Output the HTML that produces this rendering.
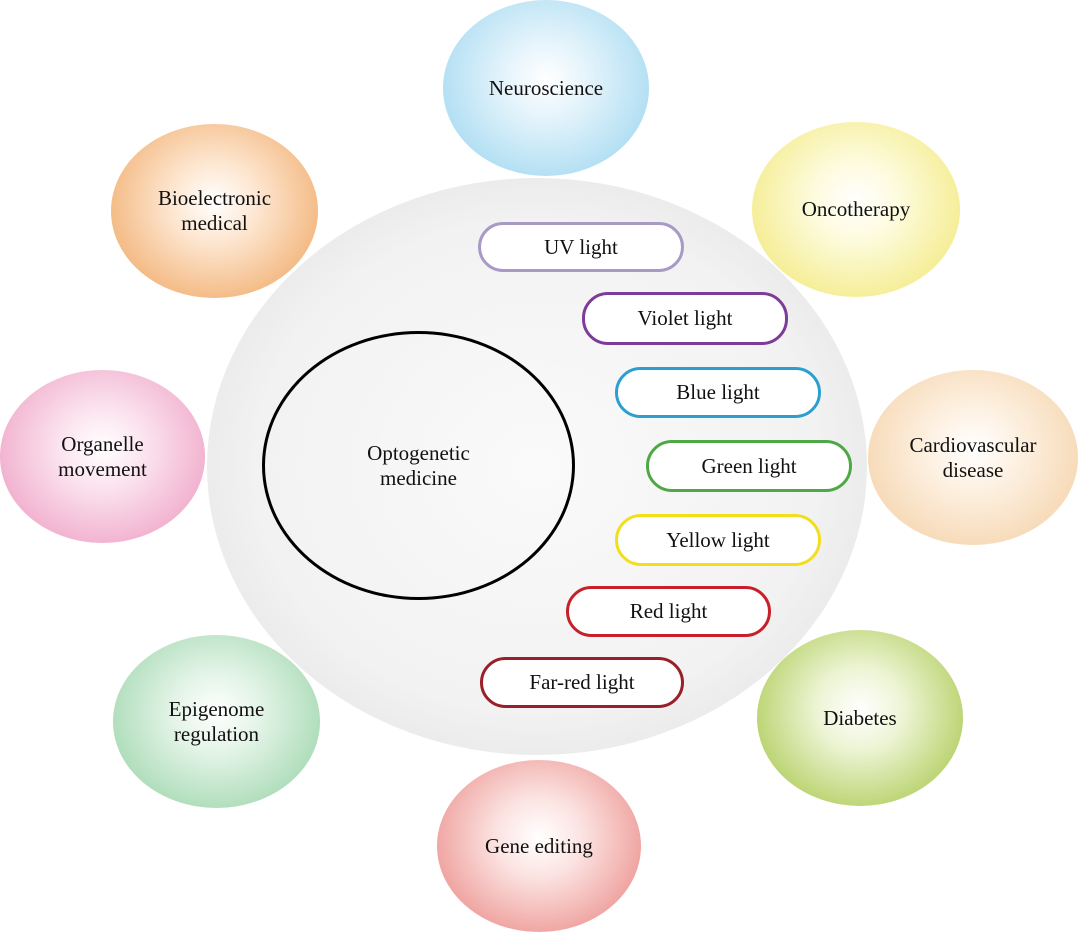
<!DOCTYPE html>
<html><head><meta charset="utf-8"><style>
body{margin:0;width:1080px;height:935px;background:#fff;position:relative;overflow:hidden;font-family:"Liberation Serif",serif;}
.c{position:absolute;border-radius:50%;display:flex;align-items:center;justify-content:center;text-align:center;font-size:21px;line-height:25px;color:#111;}
.p{position:absolute;border-radius:26px;border:3px solid;box-sizing:border-box;display:flex;align-items:center;justify-content:center;font-size:21px;color:#111;background:#fff;}
</style></head><body>
<div class="c" style="left:207px;top:178px;width:660px;height:577px;background:radial-gradient(ellipse at 50% 50%,#fafafa 0%,#f2f2f2 60%,#dadada 100%);"></div>
<div class="c" style="left:262px;top:331px;width:313px;height:269px;border:3px solid #000;box-sizing:border-box;">Optogenetic<br>medicine</div>

<div class="c" style="left:443px;top:0px;width:206px;height:176px;background:radial-gradient(ellipse at 50% 45%,#fff 0%,#e3f3fb 30%,#93d3ee 100%);">Neuroscience</div>
<div class="c" style="left:752px;top:122px;width:208px;height:175px;background:radial-gradient(ellipse at 50% 45%,#fff 0%,#fdfbdc 30%,#f0e56a 100%);">Oncotherapy</div>
<div class="c" style="left:868px;top:370px;width:210px;height:175px;background:radial-gradient(ellipse at 50% 45%,#fff 0%,#fdf1e2 30%,#f3cc9e 100%);">Cardiovascular<br>disease</div>
<div class="c" style="left:757px;top:630px;width:206px;height:176px;background:radial-gradient(ellipse at 50% 45%,#fff 0%,#edf4d4 30%,#9cc035 100%);">Diabetes</div>
<div class="c" style="left:437px;top:760px;width:204px;height:172px;background:radial-gradient(ellipse at 50% 45%,#fff 0%,#fbe3e1 30%,#e87c78 100%);">Gene editing</div>
<div class="c" style="left:113px;top:635px;width:207px;height:173px;background:radial-gradient(ellipse at 50% 45%,#fff 0%,#e3f4e7 30%,#8fcf9f 100%);">Epigenome<br>regulation</div>
<div class="c" style="left:0px;top:370px;width:205px;height:173px;background:radial-gradient(ellipse at 50% 45%,#fff 0%,#fbe3ee 30%,#ec93bc 100%);">Organelle<br>movement</div>
<div class="c" style="left:111px;top:124px;width:207px;height:174px;background:radial-gradient(ellipse at 50% 45%,#fff 0%,#fde6d0 30%,#ee9f55 100%);">Bioelectronic<br>medical</div>

<div class="p" style="left:478px;top:222px;width:206px;height:50px;border-color:#a899c6;">UV light</div>
<div class="p" style="left:582px;top:292px;width:206px;height:53px;border-color:#7d3c98;">Violet light</div>
<div class="p" style="left:615px;top:367px;width:206px;height:51px;border-color:#2b9fd0;">Blue light</div>
<div class="p" style="left:646px;top:440px;width:206px;height:52px;border-color:#4ea845;">Green light</div>
<div class="p" style="left:615px;top:514px;width:206px;height:52px;border-color:#f2df1c;">Yellow light</div>
<div class="p" style="left:566px;top:586px;width:205px;height:51px;border-color:#c8202a;">Red light</div>
<div class="p" style="left:480px;top:657px;width:204px;height:51px;border-color:#9a1f28;">Far-red light</div>
</body></html>
